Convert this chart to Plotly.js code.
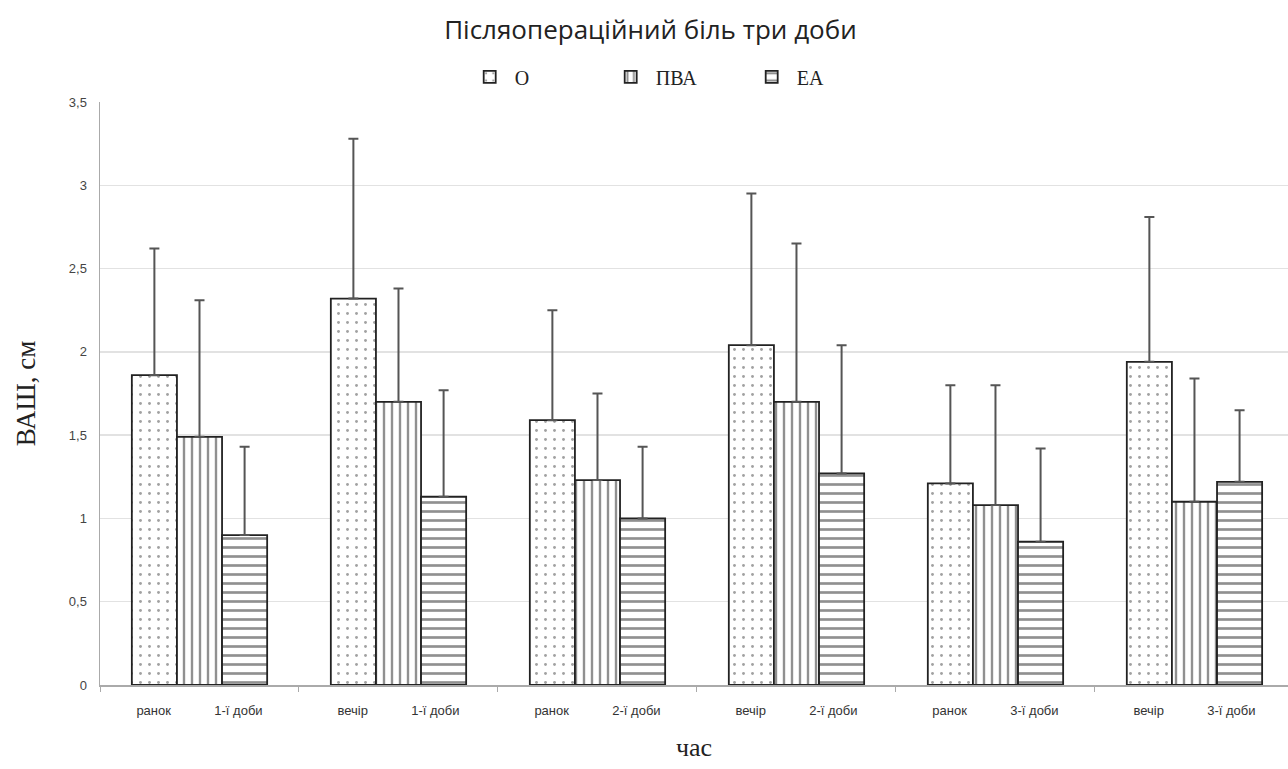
<!DOCTYPE html>
<html>
<head>
<meta charset="utf-8">
<script src="https://cdn.plot.ly/plotly-3.0.1.min.js"></script>
<style>html,body{margin:0;padding:0;background:#fff;}#chart{width:1288px;height:769px;}</style>
</head>
<body>
<div id="chart"></div>
<script>
// Data
const dayPart = ["ранок", "вечір", "ранок", "вечір", "ранок", "вечір"];
const dayLabel = ["1-ї доби", "1-ї доби", "2-ї доби", "2-ї доби", "3-ї доби", "3-ї доби"];
const categories = ["ранок 1-ї доби", "вечір 1-ї доби", "ранок 2-ї доби", "вечір 2-ї доби", "ранок 3-ї доби", "вечір 3-ї доби"];

const seriesNames = ["О", "ПВА", "ЕА"];
const valuesO   = [1.86, 2.32, 1.59, 2.04, 1.21, 1.94];
const valuesPVA = [1.49, 1.70, 1.23, 1.70, 1.08, 1.10];
const valuesEA  = [0.90, 1.13, 1.00, 1.27, 0.86, 1.22];
// upper ends of the error bars
const upperO   = [2.62, 3.28, 2.25, 2.95, 1.80, 2.81];
const upperPVA = [2.31, 2.38, 1.75, 2.65, 1.80, 1.84];
const upperEA  = [1.43, 1.77, 1.43, 2.04, 1.42, 1.65];

const yTickVals = [0, 0.5, 1, 1.5, 2, 2.5, 3, 3.5];

const NB = "\u00A0";
const tickText = dayPart.map((p, i) => p + NB.repeat(12) + dayLabel[i]);

function mkTrace(name, vals, upper, shape, size, solidity, fg) {
  return {
    type: "bar",
    name: name,
    x: categories,
    y: vals,
    error_y: {
      type: "data",
      symmetric: false,
      array: upper.map((u, i) => +(u - vals[i]).toFixed(3)),
      arrayminus: vals.map(() => 0),
      color: "#555555",
      thickness: 2,
      width: 5
    },
    marker: {
      color: "#ffffff",
      line: {color: "#222222", width: 1.8},
      pattern: {shape: shape, fgcolor: fg, bgcolor: "#ffffff", size: size, solidity: solidity, fillmode: "overlay"}
    }
  };
}

const data = [
  mkTrace(seriesNames[0], valuesO, upperO, ".", 9, 0.08, "#444444"),
  mkTrace(seriesNames[1], valuesPVA, upperPVA, "|", 8, 0.3, "#222222"),
  mkTrace(seriesNames[2], valuesEA, upperEA, "-", 9, 0.3, "#222222")
];

const layout = {
  width: 1288,
  height: 769,
  paper_bgcolor: "#ffffff",
  plot_bgcolor: "#ffffff",
  margin: {l: 100, r: 0, t: 102, b: 84},
  separators: ",.",
  barmode: "group",
  bargap: 0.32,
  bargroupgap: 0,
  title: {
    text: "Післяопераційний біль три доби",
    font: {family: "Open Sans, Noto Sans, sans-serif", size: 26, color: "#222"},
    x: 0.505, xref: "container", xanchor: "center",
    y: 0.961, yref: "container", yanchor: "middle"
  },
  legend: {
    orientation: "h",
    x: 0.525, xref: "container", xanchor: "center",
    y: 0.9, yref: "container", yanchor: "middle",
    font: {family: "Liberation Serif, serif", size: 20, color: "#222"},
    entrywidth: 86,
    itemwidth: 40,
    traceorder: "normal"
  },
  xaxis: {
    type: "category",
    range: [-0.5, 5.47],
    tickmode: "array",
    tickvals: categories,
    ticktext: tickText,
    tickson: "boundaries",
    ticks: "outside",
    ticklen: 5,
    tickcolor: "#aaaaaa",
    tickfont: {family: "Liberation Sans, Arial, sans-serif", size: 13, color: "#333"},
    ticklabelstandoff: 13,
    showline: true,
    linecolor: "#aaaaaa",
    linewidth: 1.5,
    showgrid: false,
    zeroline: false,
    title: {
      text: "час",
      font: {family: "Liberation Serif, serif", size: 26, color: "#222"},
      standoff: 20
    }
  },
  yaxis: {
    range: [0, 3.5],
    tickmode: "array",
    tickvals: yTickVals,
    ticks: "",
    tickfont: {family: "Liberation Sans, Arial, sans-serif", size: 13, color: "#444"},
    ticklabelstandoff: 9,
    showline: true,
    linecolor: "#aaaaaa",
    linewidth: 1.5,
    showgrid: true,
    gridcolor: "#e2e2e2",
    gridwidth: 1.5,
    zeroline: false,
    title: {
      text: "ВАШ, см",
      font: {family: "Liberation Serif, serif", size: 27, color: "#222"},
      standoff: 25
    }
  },
  showlegend: true
};

Plotly.newPlot("chart", data, layout, {displayModeBar: false, staticPlot: true});
</script>
</body>
</html>
